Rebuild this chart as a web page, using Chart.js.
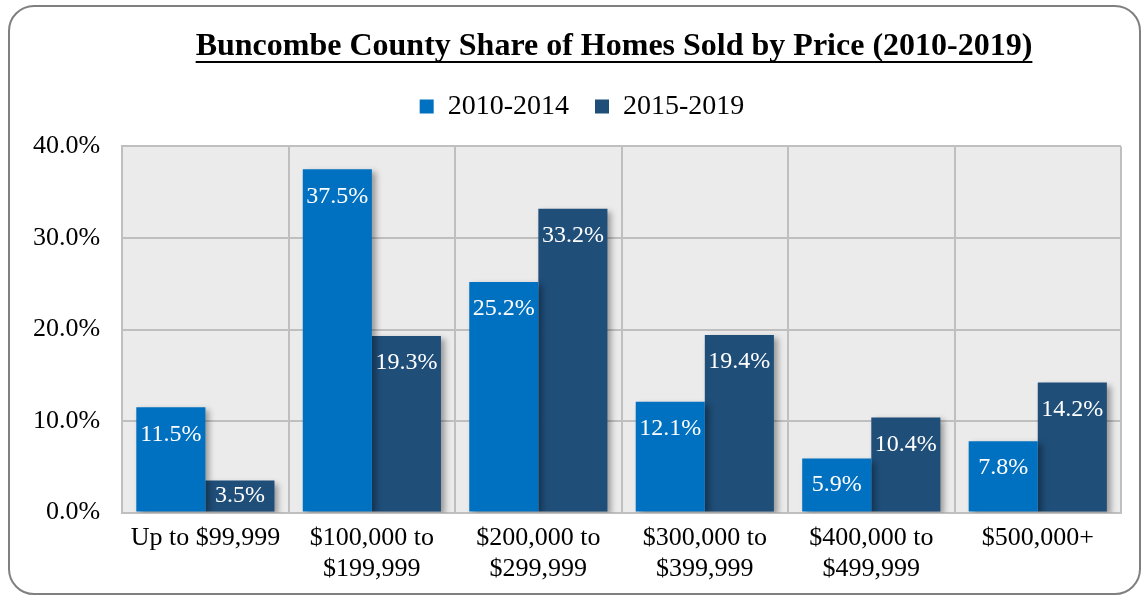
<!DOCTYPE html>
<html>
<head>
<meta charset="utf-8">
<script src="https://cdn.jsdelivr.net/npm/chart.js@4"></script>
<style>
    body { margin: 0; background: #fff; }
    #frame {
        position: absolute; left: 8px; top: 5px; width: 1129px; height: 586px;
        border: 2px solid #808080; border-radius: 26px;
    }
    #wrap { position: absolute; left: 0; top: 0; width: 1143px; height: 595px; }
</style>
</head>
<body>
<div id="frame"></div>
<div id="wrap"><canvas id="chart"></canvas></div>
<script>
const titleText = "Buncombe County Share of Homes Sold by Price (2010-2019)";
const categories = [
    "Up to $99,999",
    ["$100,000 to", "$199,999"],
    ["$200,000 to", "$299,999"],
    ["$300,000 to", "$399,999"],
    ["$400,000 to", "$499,999"],
    "$500,000+"
];
const series1Name = "2010-2014";
const series2Name = "2015-2019";
const series1 = [11.5, 37.5, 25.2, 12.1, 5.9, 7.8];
const series2 = [3.5, 19.3, 33.2, 19.4, 10.4, 14.2];
const yTicks = [0, 10, 20, 30, 40];

const serif = "'Liberation Serif', 'Times New Roman', serif";

// shadow behind the bars
const barShadow = {
    id: 'barShadow',
    beforeDatasetsDraw(chart) {
        const ctx = chart.ctx;
        ctx.save();
        ctx.shadowColor = 'rgba(0,0,0,0.35)';
        ctx.shadowBlur = 6;
        ctx.shadowOffsetX = 4;
        ctx.shadowOffsetY = 3;
    },
    afterDatasetsDraw(chart) {
        chart.ctx.restore();
    }
};

// white value labels inside the top of each bar
const valueLabels = {
    id: 'valueLabels',
    afterDatasetsDraw(chart) {
        const ctx = chart.ctx;
        ctx.save();
        ctx.font = "24px " + serif;
        ctx.fillStyle = "#ffffff";
        ctx.textAlign = "center";
        ctx.textBaseline = "middle";
        chart.data.datasets.forEach((ds, i) => {
            chart.getDatasetMeta(i).data.forEach((bar, j) => {
                const y = Math.min(bar.y + 27, (bar.y + bar.base) / 2);
                ctx.fillText(ds.data[j].toFixed(1) + "%", bar.x, y);
            });
        });
        ctx.restore();
    }
};

// more room under the legend
const legendGap = {
    id: 'legendGap',
    beforeInit(chart) {
        const fit = chart.legend.fit;
        chart.legend.fit = function () {
            fit.call(this);
            this.height += 16;
        };
    }
};

// nudge title and legend sideways, like the original
const shiftBlocks = {
    id: 'shiftBlocks',
    afterLayout(chart) {
        if (chart.titleBlock) { chart.titleBlock.left += 48; chart.titleBlock.right += 48; }
        if (chart.legend) { chart.legend.left += 16; chart.legend.right += 16; }
    }
};

// underline under the title
const titleUnderline = {
    id: 'titleUnderline',
    afterDraw(chart) {
        const t = chart.titleBlock;
        if (!t) return;
        const ctx = chart.ctx;
        ctx.save();
        ctx.font = "bold 32px " + serif;
        const w = ctx.measureText(titleText).width;
        const cx = t.left + t.width / 2;
        const y = t.top + t.options.padding.top + 19 + 15;
        ctx.strokeStyle = "#000";
        ctx.lineWidth = 2;
        ctx.beginPath();
        ctx.moveTo(cx - w / 2, y);
        ctx.lineTo(cx + w / 2, y);
        ctx.stroke();
        ctx.restore();
    }
};

// grey plot background
const plotBg = {
    id: 'plotBg',
    beforeDraw(chart) {
        const a = chart.chartArea;
        chart.ctx.save();
        chart.ctx.fillStyle = "#ebebeb";
        chart.ctx.fillRect(a.left, a.top, a.right - a.left, a.bottom - a.top);
        chart.ctx.restore();
    }
};

new Chart(document.getElementById("chart"), {
    type: 'bar',
    data: {
        labels: categories,
        datasets: [
            { label: series1Name, data: series1, backgroundColor: "#0070c0" },
            { label: series2Name, data: series2, backgroundColor: "#1f4e79" }
        ]
    },
    options: {
        responsive: true,
        maintainAspectRatio: false,
        animation: false,
        layout: { padding: { left: 11, right: 22, top: 18, bottom: 0 } },
        datasets: { bar: { categoryPercentage: 0.83, barPercentage: 1 } },
        plugins: {
            title: {
                display: true,
                text: titleText,
                color: "#000",
                font: { family: serif, size: 32, weight: 'bold' },
                padding: { top: 10, bottom: 0 }
            },
            legend: {
                display: true,
                labels: {
                    color: "#000",
                    font: { family: serif, size: 28 },
                    boxWidth: 14,
                    boxHeight: 14,
                    padding: 26
                }
            },
            tooltip: { enabled: false }
        },
        scales: {
            x: {
                grid: { color: "#bfbfbf", lineWidth: 2, drawTicks: false },
                border: { color: "#bfbfbf", width: 2 },
                ticks: { color: "#000", font: { family: serif, size: 26 }, padding: 10, maxRotation: 0, autoSkip: false }
            },
            y: {
                min: 0,
                max: 40,
                afterBuildTicks(axis) { axis.ticks = yTicks.map(v => ({ value: v })); },
                grid: { color: "#bfbfbf", lineWidth: 2, drawTicks: false },
                border: { color: "#bfbfbf", width: 2 },
                ticks: { color: "#000", font: { family: serif, size: 26 }, padding: 22, callback: v => v.toFixed(1) + "%" }
            }
        }
    },
    plugins: [plotBg, legendGap, shiftBlocks, barShadow, valueLabels, titleUnderline]
});
</script>
</body>
</html>
